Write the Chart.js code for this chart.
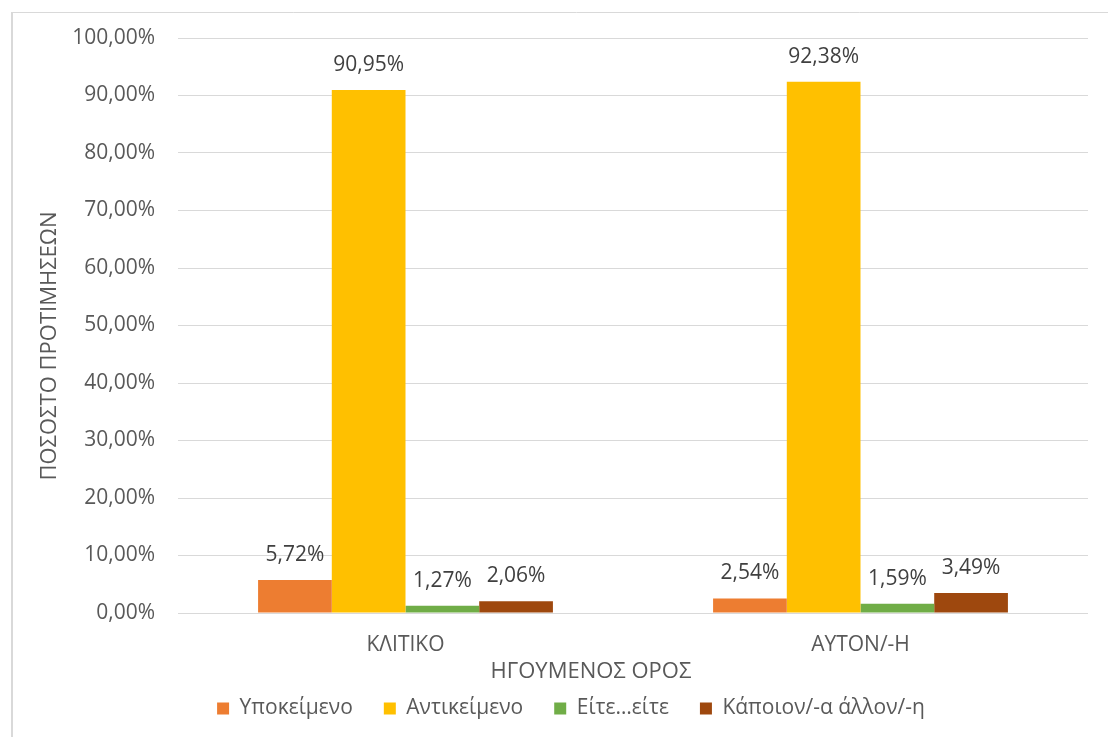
<!DOCTYPE html>
<html>
<head>
<meta charset="utf-8">
<script src="https://cdn.jsdelivr.net/npm/chart.js@4/dist/chart.umd.min.js"></script>
<style>
    html, body { margin: 0; padding: 0; overflow: hidden; background: #fff; }
    canvas { display: block; }
</style>
</head>
<body>
<canvas id="myChart" width="1142" height="737"></canvas>
<script>
'use strict';

const categories = ['ΚΛΙΤΙΚΟ', 'ΑΥΤΟΝ/-Η'];
const seriesNames = ['Υποκείμενο', 'Αντικείμενο', 'Είτε…είτε', 'Κάποιον/-α άλλον/-η'];
const subjectValues = [5.72, 2.54];
const objectValues = [90.95, 92.38];
const eitherValues = [1.27, 1.59];
const someoneElseValues = [2.06, 3.49];
const yTicks = [0, 10, 20, 30, 40, 50, 60, 70, 80, 90, 100];
const xTitle = 'ΗΓΟΥΜΕΝΟΣ ΟΡΟΣ';
const yTitle = 'ΠΟΣΟΣΤΟ ΠΡΟΤΙΜΗΣΕΩΝ';

const seriesColors = ['#ED7D31', '#FFC000', '#70AD47', '#9E480E'];
const fontFamily = '"Open Sans", "DejaVu Sans", sans-serif';
const axisColor = '#595959';
const labelColor = '#404040';

const fmt = function(v) {
    return v.toFixed(2).replace('.', ',') + '%';
};

/* background + frame of the chart area */
const framePlugin = {
    id: 'frame',
    beforeDraw(chart) {
        const ctx = chart.ctx;
        ctx.save();
        ctx.fillStyle = '#fff';
        ctx.fillRect(0, 0, chart.width, chart.height);
        ctx.strokeStyle = '#d9d9d9';
        ctx.lineWidth = 1;
        ctx.beginPath();
        ctx.moveTo(11, 12.5);
        ctx.lineTo(chart.width, 12.5);
        ctx.stroke();
        ctx.lineWidth = 2;
        ctx.beginPath();
        ctx.moveTo(12, 12);
        ctx.lineTo(12, chart.height);
        ctx.stroke();
        ctx.restore();
    }
};

/* value labels above bars */
const valueLabels = {
    id: 'valueLabels',
    afterDatasetsDraw(chart) {
        const ctx = chart.ctx;
        ctx.save();
        ctx.font = '21px ' + fontFamily;
        ctx.fillStyle = labelColor;
        ctx.textAlign = 'center';
        ctx.textBaseline = 'middle';
        chart.data.datasets.forEach(function(ds, i) {
            chart.getDatasetMeta(i).data.forEach(function(bar, j) {
                ctx.fillText(fmt(ds.data[j]), bar.x, bar.y - 25);
            });
        });
        ctx.restore();
    }
};

/* axis titles, centred like the original */
const axisTitles = {
    id: 'axisTitles',
    afterDraw(chart) {
        const ctx = chart.ctx;
        ctx.save();
        ctx.font = '22px ' + fontFamily;
        ctx.fillStyle = axisColor;
        ctx.textAlign = 'center';
        ctx.textBaseline = 'middle';
        ctx.fillText(xTitle, 591, 672);
        ctx.translate(50, 346);
        ctx.rotate(-Math.PI / 2);
        ctx.fillText(yTitle, 0, 0);
        ctx.restore();
    }
};

const ctx = document.getElementById('myChart').getContext('2d');

const chart = new Chart(ctx, {
    type: 'bar',
    data: {
        labels: categories,
        datasets: [
            { label: seriesNames[0], data: subjectValues, backgroundColor: seriesColors[0] },
            { label: seriesNames[1], data: objectValues, backgroundColor: seriesColors[1] },
            { label: seriesNames[2], data: eitherValues, backgroundColor: seriesColors[2] },
            { label: seriesNames[3], data: someoneElseValues, backgroundColor: seriesColors[3] }
        ]
    },
    options: {
        responsive: false,
        animation: false,
        devicePixelRatio: 1,
        layout: { padding: { left: 0, right: 0, top: 38, bottom: 8 } },
        datasets: {
            bar: { categoryPercentage: 0.648, barPercentage: 1, borderWidth: 0 }
        },
        scales: {
            x: {
                grid: { display: false, drawTicks: false },
                border: { display: false },
                ticks: {
                    color: axisColor,
                    padding: 19,
                    font: { family: fontFamily, size: 21 }
                },
                afterFit(scale) { scale.height = 54; }
            },
            y: {
                min: 0,
                max: 100,
                afterBuildTicks(scale) {
                    scale.ticks = yTicks.map(function(v) { return { value: v }; });
                },
                grid: { color: '#d9d9d9', lineWidth: 1, drawTicks: false },
                border: { display: false },
                ticks: {
                    color: axisColor,
                    padding: 23,
                    font: { family: fontFamily, size: 21 },
                    callback: function(v) { return fmt(v); }
                },
                afterFit(scale) { scale.width = 178; }
            },
            /* empty axis that only keeps space on the right */
            y2: {
                position: 'right',
                grid: { display: false, drawTicks: false },
                border: { display: false },
                ticks: { display: false },
                afterFit(scale) { scale.width = 54; }
            }
        },
        plugins: {
            legend: {
                position: 'bottom',
                labels: {
                    color: axisColor,
                    boxWidth: 12,
                    boxHeight: 12,
                    padding: 31,
                    font: { family: fontFamily, size: 21 }
                }
            },
            tooltip: { enabled: false }
        }
    },
    plugins: [framePlugin, valueLabels, axisTitles]
});
</script>
</body>
</html>
